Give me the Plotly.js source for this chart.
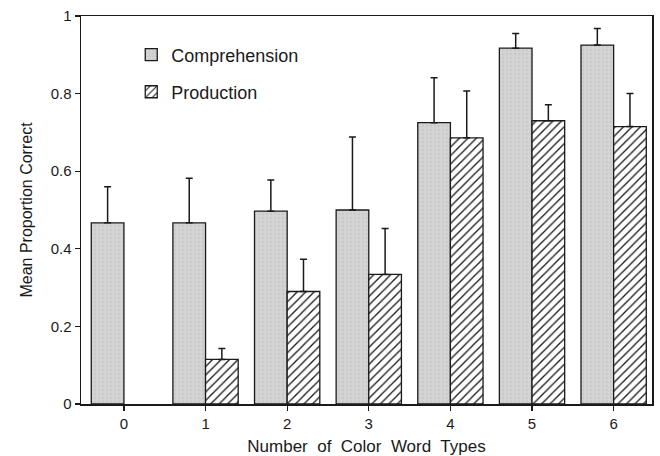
<!DOCTYPE html>
<html>
<head>
<meta charset="utf-8">
<script src="https://cdn.plot.ly/plotly-3.0.1.min.js"></script>
<style>html,body{margin:0;padding:0;background:#fff;}#chart{width:660px;height:456px;}</style>
</head>
<body>
<div id="chart"></div>
<script>
const categories = [0, 1, 2, 3, 4, 5, 6];
const tickLabels = ["0", "1", "2", "3", "4", "5", "6"];
const comprehension = [0.467, 0.467, 0.497, 0.500, 0.725, 0.917, 0.925];
const comprehensionErr = [0.093, 0.115, 0.080, 0.188, 0.116, 0.038, 0.043];
const production = [null, 0.115, 0.290, 0.334, 0.686, 0.730, 0.715];
const productionErr = [null, 0.028, 0.083, 0.118, 0.121, 0.041, 0.085];
const zeros = categories.map(() => 0);

const FONT = '"Liberation Sans", Arial, Helvetica, sans-serif';

const traces = [
  {
    type: 'bar', name: 'Comprehension', x: categories, y: comprehension,
    marker: {
      color: '#d3d3d3',
      line: {color: '#1a1a1a', width: 1.3},
      pattern: {shape: '.', fgcolor: '#c9c9c9', bgcolor: '#d4d4d4', size: 4, solidity: 0.3}
    },
    error_y: {type: 'data', symmetric: false, array: comprehensionErr, arrayminus: zeros,
      color: '#1a1a1a', thickness: 1.5, width: 3.5},
    legend: 'legend'
  },
  {
    type: 'bar', name: 'Production', x: categories, y: production,
    marker: {
      color: '#ffffff',
      line: {color: '#1a1a1a', width: 1.3},
      pattern: {shape: '/', fgcolor: '#1a1a1a', bgcolor: '#ffffff', size: 6, solidity: 0.22}
    },
    error_y: {type: 'data', symmetric: false, array: productionErr, arrayminus: zeros,
      color: '#1a1a1a', thickness: 1.5, width: 3.5},
    legend: 'legend2'
  }
];

const legendCommon = {
  xanchor: 'left', yanchor: 'middle', bgcolor: 'rgba(0,0,0,0)', borderwidth: 0,
  font: {family: FONT, size: 18, color: '#1a1a1a'}, itemwidth: 30
};

const layout = {
  width: 660, height: 456,
  margin: {l: 81, r: 8, t: 16, b: 52},
  paper_bgcolor: '#ffffff', plot_bgcolor: '#ffffff',
  barmode: 'group', bargap: 0.2, bargroupgap: 0,
  font: {family: FONT, color: '#1a1a1a'},
  showlegend: true,
  legend: Object.assign({}, legendCommon, {x: 0.088, y: 0.8995}),
  legend2: Object.assign({}, legendCommon, {x: 0.088, y: 0.804}),
  xaxis: {
    range: [-0.526, 6.47], tickvals: categories, ticktext: tickLabels,
    ticks: 'outside', ticklen: 5, tickwidth: 1.3, tickcolor: '#1a1a1a',
    showline: true, linecolor: '#1a1a1a', linewidth: 1.5, mirror: true,
    showgrid: false, zeroline: false,
    tickfont: {family: FONT, size: 15, color: '#1a1a1a'},
    title: {text: '\u00a0\u00a0\u00a0Number\u00a0 of\u00a0 Color\u00a0 Word\u00a0 Types', font: {family: FONT, size: 17, color: '#1a1a1a'}, standoff: 9}
  },
  yaxis: {
    range: [0, 1], tickvals: [0, 0.2, 0.4, 0.6, 0.8, 1], ticktext: ['0', '0.2', '0.4', '0.6', '0.8', '1'],
    ticks: 'outside', ticklen: 5, tickwidth: 1.3, tickcolor: '#1a1a1a',
    showline: true, linecolor: '#1a1a1a', linewidth: 1.5, mirror: true,
    showgrid: false, zeroline: false,
    tickfont: {family: FONT, size: 15, color: '#1a1a1a'},
    title: {text: 'Mean Proportion Correct', font: {family: FONT, size: 16, color: '#1a1a1a'}, standoff: 14}
  }
};

Plotly.newPlot('chart', traces, layout, {displayModeBar: false, staticPlot: true});
</script>
</body>
</html>
